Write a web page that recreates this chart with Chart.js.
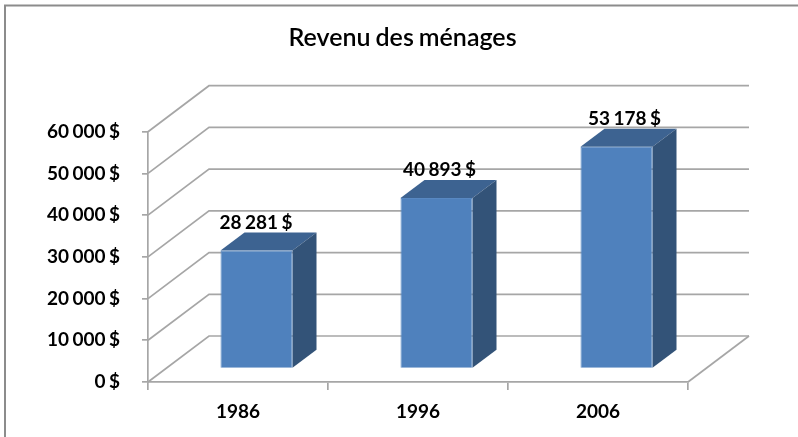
<!DOCTYPE html>
<html>
<head>
<meta charset="utf-8">
<style>html,body{margin:0;padding:0;background:#fff}#w{position:relative;width:798px;height:437px}canvas{display:block}</style>
<script src="https://cdn.jsdelivr.net/npm/chart.js@4"></script>
</head>
<body>
<div id="w"><canvas id="c" width="798" height="437"></canvas></div>
<script>
const categories = ['1986', '1996', '2006'];
const revenue = [28281, 40893, 53178];
const valueLabels = ['28 281 $', '40 893 $', '53 178 $'];
const labelNudge = [-0.5, 3, 8];
const chartTitle = 'Revenu des ménages';
const FONT = 'Lato, "Open Sans", sans-serif';
const GRID = '#a6a6a6';
const FRONT = '#4f81bd', SIDE = '#335378', TOP = '#3d6391';
const WALL = {dx: 61, dy: -46};
const BARPOS = {dx: 18.5, dy: -13.5};
const BARDEPTH = {dx: 24, dy: -18};
const WORD_GAP = '-1.2px';

const threeD = {
  id: 'threeD',
  afterLayout(chart) {
    chart.titleBlock.left = 117;
    chart.titleBlock.right = 688;
  },
  beforeDraw(chart) {
    const c = chart.ctx;
    c.fillStyle = '#fff';
    c.fillRect(0, 0, chart.width, chart.height);
    c.save();
    c.strokeStyle = '#8c8c8c';
    c.lineWidth = 2;
    c.beginPath();
    c.moveTo(5, 437); c.lineTo(5, 5.5); c.lineTo(798, 5.5);
    c.stroke();
    c.restore();
    c.wordSpacing = WORD_GAP;
  },
  beforeDatasetsDraw(chart) {
    const c = chart.ctx, y = chart.scales.y, a = chart.chartArea;
    c.save();
    c.strokeStyle = GRID;
    c.lineWidth = 1.7;
    y.ticks.forEach(t => {
      const py = y.getPixelForValue(t.value);
      c.beginPath();
      c.moveTo(a.left, py);
      c.lineTo(a.left + WALL.dx, py + WALL.dy);
      c.lineTo(a.right + WALL.dx, py + WALL.dy);
      c.stroke();
    });
    const py0 = y.getPixelForValue(0);
    c.beginPath();
    c.moveTo(a.right, py0);
    c.lineTo(a.right + WALL.dx, py0 + WALL.dy);
    c.stroke();
    c.restore();
    c.save();
    c.translate(BARPOS.dx, BARPOS.dy);
    chart.getDatasetMeta(0).data.forEach(b => {
      const l = b.x - b.width / 2, r = b.x + b.width / 2, t = b.y, bt = b.base;
      c.fillStyle = TOP;
      c.beginPath();
      c.moveTo(l, t); c.lineTo(l + BARDEPTH.dx, t + BARDEPTH.dy);
      c.lineTo(r + BARDEPTH.dx, t + BARDEPTH.dy); c.lineTo(r, t);
      c.closePath(); c.fill();
      c.fillStyle = SIDE;
      c.beginPath();
      c.moveTo(r, t); c.lineTo(r + BARDEPTH.dx, t + BARDEPTH.dy);
      c.lineTo(r + BARDEPTH.dx, bt + BARDEPTH.dy); c.lineTo(r, bt);
      c.closePath(); c.fill();
    });
  },
  afterDatasetsDraw(chart) {
    const c = chart.ctx;
    c.restore();
    c.save();
    c.fillStyle = '#000';
    c.font = '700 19px ' + FONT;
    c.textAlign = 'center';
    c.textBaseline = 'alphabetic';
    chart.getDatasetMeta(0).data.forEach((b, i) => {
      c.fillText(valueLabels[i], b.x + BARPOS.dx + labelNudge[i], b.y + BARPOS.dy + BARDEPTH.dy - 4);
    });
    c.restore();
  }
};

new Chart(document.getElementById('c'), {
  type: 'bar',
  data: {
    labels: categories,
    datasets: [{
      data: revenue,
      backgroundColor: FRONT,
      borderColor: '#5888c2',
      borderWidth: 1,
      barPercentage: 0.4,
      categoryPercentage: 1
    }]
  },
  options: {
    responsive: false,
    animation: false,
    layout: {padding: {left: 0, right: 110, top: 0, bottom: 0}},
    plugins: {
      legend: {display: false},
      tooltip: {enabled: false},
      title: {
        display: true,
        text: chartTitle,
        color: '#000',
        font: {family: FONT, size: 25, weight: '600'},
        padding: {top: 23, bottom: 78.7}
      }
    },
    scales: {
      x: {
        grid: {drawOnChartArea: false, color: GRID, tickLength: 8, lineWidth: 1.7, offset: true},
        border: {color: GRID, width: 1.7},
        afterFit(s) { s.height = 55; },
        ticks: {color: '#000', padding: 10, font: {family: FONT, size: 19, weight: '700'}}
      },
      y: {
        min: 0, max: 60000,
        afterFit(s) { s.width = 148; },
        grid: {drawOnChartArea: false, color: GRID, tickLength: 6, lineWidth: 1.7},
        border: {color: GRID, width: 1.7},
        ticks: {
          stepSize: 10000, color: '#000', padding: 22,
          font: {family: FONT, size: 19, weight: '700'},
          callback: v => (v === 0 ? '0 $' : (v / 1000) + ' 000 $')
        }
      }
    }
  },
  plugins: [threeD]
});
</script>
</body>
</html>
